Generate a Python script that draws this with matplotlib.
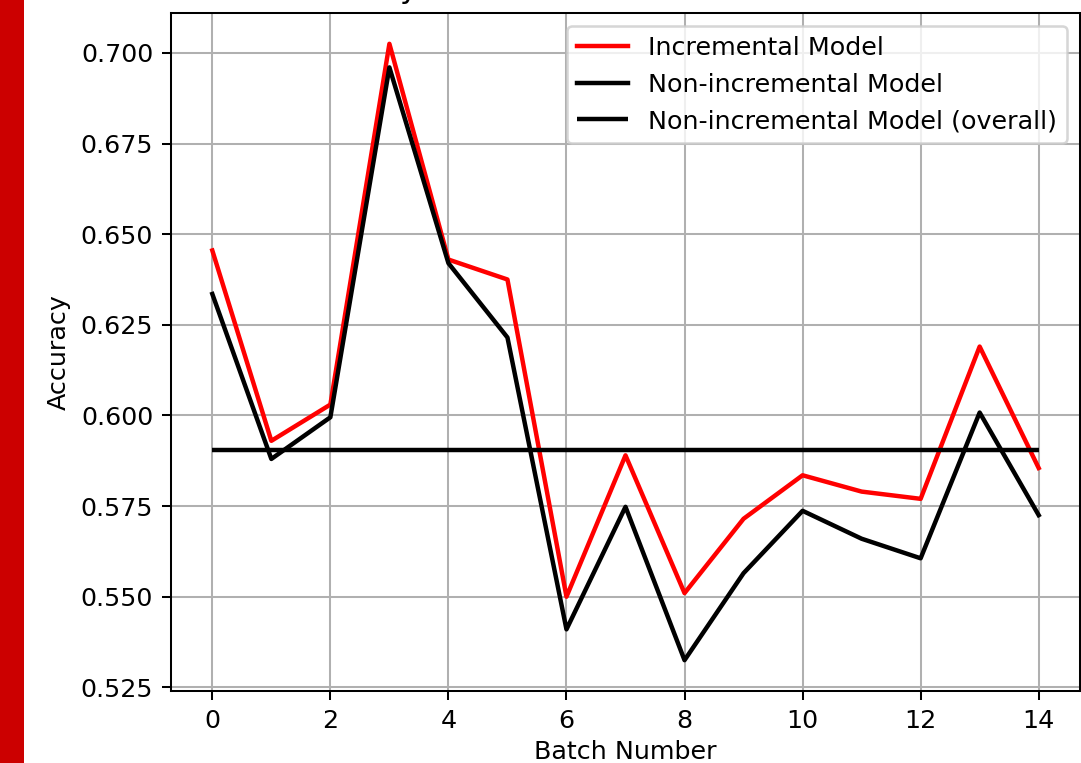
import matplotlib
matplotlib.use("Agg")
import matplotlib.pyplot as plt
from matplotlib.patches import Rectangle

batches = list(range(15))
incremental = [0.6455, 0.593, 0.603, 0.7025, 0.643, 0.6375, 0.550, 0.589, 0.551, 0.5715,
               0.5835, 0.579, 0.577, 0.619, 0.5855]
non_incremental = [0.6335, 0.588, 0.5995, 0.696, 0.642, 0.6215, 0.541, 0.5748, 0.5325, 0.5565,
                   0.5737, 0.566, 0.5606, 0.6008, 0.5725]
overall = 0.5904

title_text = "Batch-wise Accuracy of Incremental vs Non-incremental Model"
labels = ["Incremental Model", "Non-incremental Model", "Non-incremental Model (overall)"]

DPI = 183
fig = plt.figure(figsize=(1081 / DPI, 763 / DPI), dpi=DPI)
ax = fig.add_axes([171 / 1081, 1 - 691 / 763, (1080 - 171) / 1081, (691 - 13) / 763])

LW = 1.75
ax.plot(batches, incremental, color="red", lw=LW, label=labels[0])
ax.plot(batches, non_incremental, color="black", lw=LW, label=labels[1])
ax.hlines(overall, batches[0], batches[-1], colors="black", lw=LW, label=labels[2])

ax.set_xlabel("Batch Number", labelpad=3)
ax.set_ylabel("Accuracy")
ax.grid(True)
ax.legend(loc="upper right")

fig.text(580 / 1081, 1 + 1.5 / 763, title_text, ha="center", va="baseline", fontsize=12)
fig.patches.append(Rectangle((0, 0), 24 / 1081, 1, transform=fig.transFigure,
                             facecolor="#cc0000", edgecolor="none"))

fig.savefig("out.png", dpi=DPI)
